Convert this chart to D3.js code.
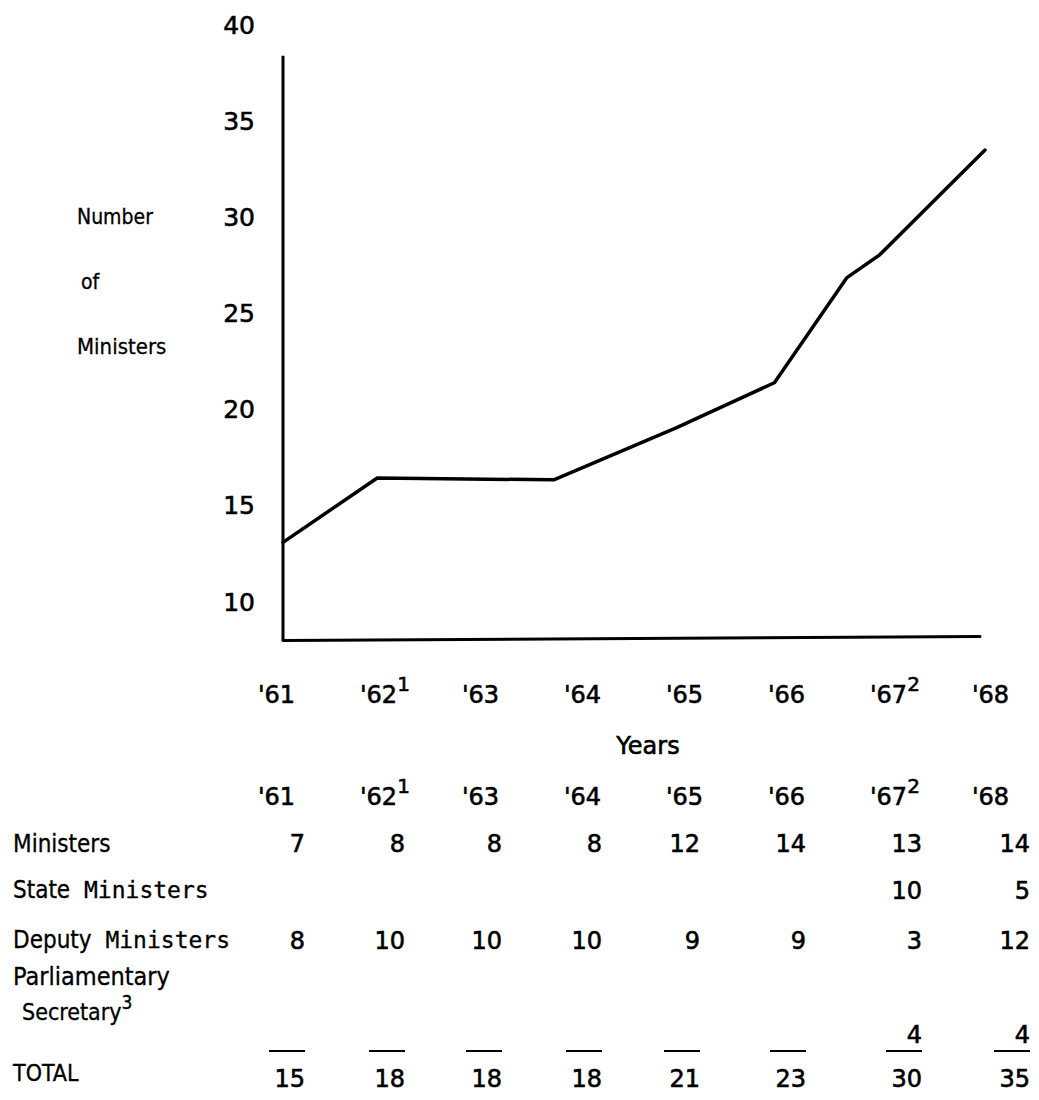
<!DOCTYPE html>
<html>
<head>
<meta charset="utf-8">
<script src="https://cdn.jsdelivr.net/npm/d3@7"></script>
<style>
  html, body { margin: 0; padding: 0; background: #fff; }
  svg { display: block; }
</style>
</head>
<body>
<svg id="chart" width="1039" height="1100"></svg>
<script>
// ---------- DATA ----------
const years = [1961, 1962, 1963, 1964, 1965, 1966, 1967, 1968];
const yearLabels = ["'61", "'62", "'63", "'64", "'65", "'66", "'67", "'68"];
const yearNotes = ["", "1", "", "", "", "", "2", ""];
const yTicks = [10, 15, 20, 25, 30, 35, 40];

// hand-drawn line: x position in years, value in ministers
const lineX = [1961, 1961.94, 1963.7, 1964.92, 1965.9, 1966.62, 1966.95, 1968];
const lineY = [13.1, 16.45, 16.35, 19.05, 21.4, 26.85, 28.05, 33.5];

const rowNames = ["Ministers", "State Ministers", "Deputy Ministers", "Parliamentary Secretary", "TOTAL"];
const ministers = [7, 8, 8, 8, 12, 14, 13, 14];
const stateMinisters = [null, null, null, null, null, null, 10, 5];
const deputyMinisters = [8, 10, 10, 10, 9, 9, 3, 12];
const parliamentarySecretary = [null, null, null, null, null, null, 4, 4];
const totals = [15, 18, 18, 18, 21, 23, 30, 35];

// ---------- LAYOUT ----------
const svg = d3.select("#chart");
const numFont = "'DejaVu Sans', sans-serif";
const labFont = "'DejaVu Sans Condensed', 'DejaVu Sans', sans-serif";
const monoFont = "'DejaVu Sans Mono', monospace";

const x = d3.scaleLinear().domain([1961, 1968]).range([283, 985]);
const y = d3.scaleLinear().domain([10, 40]).range([602, 25]);
const xLab = d3.scaleLinear().domain([1961, 1968]).range([258, 972]);
const colRight = [305, 405, 502, 602, 700, 806, 922, 1030];

function heavy(sel) {
  return sel.attr("fill", "#000").attr("stroke", "#000").attr("stroke-width", 0.6);
}

// y tick labels via axis
const yAxis = d3.axisLeft(y).tickValues(yTicks).tickSize(0).tickPadding(28).tickFormat(d3.format("d"));
const gy = svg.append("g").attr("transform", `translate(${x(1961)},0)`).call(yAxis);
gy.select(".domain").remove();
heavy(gy.selectAll("text").attr("font-family", numFont).attr("font-size", 25));

// axis lines
svg.append("line")
  .attr("x1", x(1961)).attr("x2", x(1961))
  .attr("y1", y(38.4)).attr("y2", y(8.0))
  .attr("stroke", "#000").attr("stroke-width", 3);
svg.append("line")
  .attr("x1", x(1961)).attr("x2", x(1967.95))
  .attr("y1", y(8.0)).attr("y2", y(8.2))
  .attr("stroke", "#000").attr("stroke-width", 3).attr("stroke-linecap", "round");

// data line
const pts = lineX.map((d, i) => [d, lineY[i]]);
svg.append("path")
  .datum(pts)
  .attr("d", d3.line().x(d => x(d[0])).y(d => y(d[1])))
  .attr("fill", "none").attr("stroke", "#000").attr("stroke-width", 3.5)
  .attr("stroke-linejoin", "round").attr("stroke-linecap", "round");

// y axis title
const yt = heavy(svg.append("g").attr("font-family", labFont).attr("font-size", 21)).attr("stroke-width", 0.3);
yt.append("text").attr("x", 77).attr("y", 218).attr("dominant-baseline", "middle").text("Number");
yt.append("text").attr("x", 81).attr("y", 283).attr("dominant-baseline", "middle").text("of");
yt.append("text").attr("x", 77).attr("y", 348).attr("dominant-baseline", "middle").attr("font-size", 22).text("Ministers");

// x labels (two rows: axis & table header)
function yearRow(yPos) {
  const g = heavy(svg.append("g").attr("font-family", numFont).attr("font-size", 24));
  years.forEach((yr, i) => {
    const t = g.append("text").attr("x", xLab(yr)).attr("y", yPos);
    t.append("tspan").text(yearLabels[i]);
    if (yearNotes[i]) {
      t.append("tspan").attr("dy", -12).attr("font-size", 20).text(yearNotes[i]);
    }
  });
}
yearRow(703);
yearRow(805);

heavy(svg.append("text").attr("x", 648).attr("y", 754).attr("text-anchor", "middle")
  .attr("font-family", numFont).attr("font-size", 24)).text("Years");

// table row labels
const rl = heavy(svg.append("g").attr("font-family", labFont).attr("font-size", 24)).attr("stroke-width", 0.3);
rl.append("text").attr("x", 13).attr("y", 852).text(rowNames[0]);
const st = rl.append("text").attr("x", 13).attr("y", 898);
st.append("tspan").text("State");
st.append("tspan").attr("font-family", monoFont).attr("font-size", 23).text(" Ministers");
const dp = rl.append("text").attr("x", 13).attr("y", 948);
dp.append("tspan").text("Deputy");
dp.append("tspan").attr("font-family", monoFont).attr("font-size", 23).text(" Ministers");
rl.append("text").attr("x", 13).attr("y", 985).attr("font-size", 25).text("Parliamentary");
const sec = rl.append("text").attr("x", 22).attr("y", 1020).attr("font-size", 23);
sec.append("tspan").text("Secretary");
sec.append("tspan").attr("dy", -11).attr("font-size", 19).text("3");
rl.append("text").attr("x", 13).attr("y", 1081).attr("font-family", "'Liberation Sans Narrow', " + labFont)
  .attr("font-size", 23).text(rowNames[4]);

// table values
function valueRow(vals, yPos) {
  heavy(svg.append("g").attr("font-family", numFont).attr("font-size", 24))
    .selectAll("text").data(vals.map((v, i) => ({v, i})).filter(d => d.v !== null))
    .join("text")
    .attr("x", d => colRight[d.i]).attr("y", yPos)
    .attr("text-anchor", "end").text(d => d.v);
}
valueRow(ministers, 852);
valueRow(stateMinisters, 899);
valueRow(deputyMinisters, 949);
valueRow(parliamentarySecretary, 1043);
valueRow(totals, 1087);

// total overlines
svg.append("g").selectAll("line").data(years.map((d, i) => i)).join("line")
  .attr("x1", i => colRight[i] - 36).attr("x2", i => colRight[i])
  .attr("y1", 1051).attr("y2", 1051)
  .attr("stroke", "#000").attr("stroke-width", 2);
</script>
</body>
</html>
